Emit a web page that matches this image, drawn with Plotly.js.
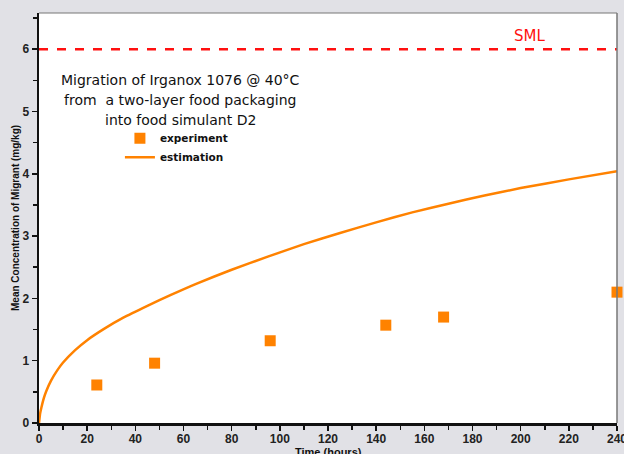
<!DOCTYPE html>
<html>
<head>
<meta charset="utf-8">
<script src="https://cdn.plot.ly/plotly-3.0.1.min.js"></script>
<style>html,body{margin:0;padding:0;background:#e1e1e6;}</style>
</head>
<body>
<div id="chart" style="width:624px;height:454px;"></div>
<script>
// Experiment data
const expTime = [24, 48, 96, 144, 168, 240];
const expConc = [0.61, 0.96, 1.32, 1.57, 1.70, 2.10];
// Estimation curve
const estTime = [0, 0.5, 1, 2, 3, 5, 7.5, 10, 15, 20, 27, 35, 45, 55, 65, 80, 95, 110, 125, 140, 155, 170, 185, 200, 220, 240];
const estConc = [0, 0.16, 0.25, 0.40, 0.51, 0.68, 0.84, 0.97, 1.17, 1.33, 1.51, 1.69, 1.88, 2.06, 2.23, 2.46, 2.67, 2.87, 3.05, 3.22, 3.38, 3.52, 3.65, 3.77, 3.91, 4.04];
const smlValue = 6;
const xTicks = [0, 20, 40, 60, 80, 100, 120, 140, 160, 180, 200, 220, 240];
const yTicks = [0, 1, 2, 3, 4, 5, 6];
const titleLines = ['Migration of Irganox 1076 @ 40°C', 'from  a two-layer food packaging', 'into food simulant D2'];
const titleLineY = [5.51, 5.18, 4.87];

const orange = '#ff8200';

const traces = [
  {
    x: expTime, y: expConc, type: 'scatter', mode: 'markers', name: 'experiment',
    marker: {symbol: 'square', size: 11, color: orange}, cliponaxis: false
  },
  {
    x: estTime, y: estConc, type: 'scatter', mode: 'lines', name: 'estimation',
    line: {color: orange, width: 2.5, shape: 'spline', smoothing: 0.5}
  }
];

const tickFont = {family: 'Liberation Sans, Arial, sans-serif', size: 12, color: '#222', weight: 'bold'};

const annotations = [
  {xref: 'x', yref: 'y', x: 203.5, y: smlValue, yanchor: 'bottom', yshift: 2, showarrow: false,
   text: 'SML', font: {family: 'DejaVu Sans, sans-serif', size: 15, color: '#ff1010'}},
  {xref: 'paper', yref: 'paper', x: 0.5, y: -0.071, xanchor: 'center', yanchor: 'middle', showarrow: false,
   text: 'Time (hours)', font: {family: 'Liberation Sans, Arial, sans-serif', size: 11, color: '#111', weight: 'bold'}},
  {xref: 'paper', yref: 'paper', x: -0.0415, y: 0.5, xanchor: 'center', yanchor: 'middle', showarrow: false,
   textangle: -90,
   text: 'Mean Concentration of Migrant (mg/kg)', font: {family: 'Liberation Sans, Arial, sans-serif', size: 10, color: '#111', weight: 'bold'}}
];
titleLines.forEach((t, i) => {
  annotations.push({xref: 'x', yref: 'y', x: 58.6, y: titleLineY[i], xanchor: 'center', yanchor: 'middle',
    showarrow: false, text: t, font: {family: 'DejaVu Sans, sans-serif', size: 14, color: '#111'}});
});

const layout = {
  width: 624, height: 454,
  margin: {l: 39, r: 7, t: 13, b: 31},
  paper_bgcolor: '#e1e1e6',
  plot_bgcolor: '#ffffff',
  showlegend: true,
  legend: {
    x: 0.140, y: 0.730, xanchor: 'left', yanchor: 'top',
    bgcolor: 'rgba(0,0,0,0)',
    font: {family: 'DejaVu Sans, sans-serif', size: 10.5, color: '#111', weight: 'bold'},
    itemwidth: 30, tracegroupgap: 0
  },
  xaxis: {
    range: [0, 240], tickvals: xTicks, ticks: 'outside', ticklen: 5, tickwidth: 1.5, tickcolor: '#111',
    showline: true, linecolor: '#111', linewidth: 2.5, showgrid: false, zeroline: false,
    tickfont: tickFont, ticklabeloverflow: 'allow', ticklabelstandoff: -2,
    minor: {dtick: 10, ticks: 'outside', ticklen: 4, tickwidth: 1.5, tickcolor: '#111', showgrid: false}
  },
  yaxis: {
    range: [0, 6.58], tickvals: yTicks, ticks: 'outside', ticklen: 5, tickwidth: 1.5, tickcolor: '#111',
    showline: true, linecolor: '#111', linewidth: 2.5, showgrid: false, zeroline: false,
    tickfont: tickFont,
    minor: {dtick: 0.5, ticks: 'outside', ticklen: 4, tickwidth: 1.5, tickcolor: '#111', showgrid: false}
  },
  shapes: [
    {type: 'line', xref: 'paper', yref: 'y', x0: 0, x1: 1, y0: smlValue, y1: smlValue,
     line: {color: '#ff1010', width: 2.5, dash: 'dash'}},
    {type: 'line', xref: 'paper', yref: 'paper', x0: 0, x1: 1, y0: 1, y1: 1, line: {color: '#777', width: 1}},
    {type: 'line', xref: 'paper', yref: 'paper', x0: 1, x1: 1, y0: 0, y1: 1, line: {color: '#777', width: 1.5}}
  ],
  annotations: annotations
};

Plotly.newPlot('chart', traces, layout, {displayModeBar: false, staticPlot: true});
</script>
</body>
</html>
